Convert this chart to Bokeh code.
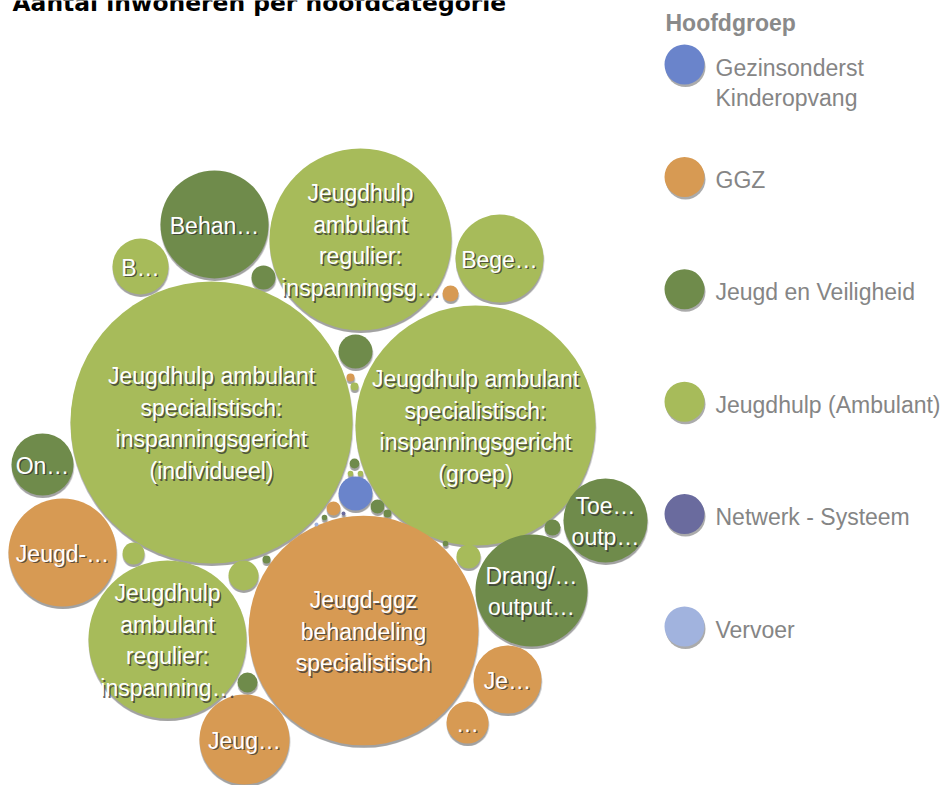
import math
from bokeh.plotting import figure
from bokeh.models import Range1d, ColumnDataSource
from bokeh.embed import file_html
from bokeh.resources import INLINE
from bokeh.core.properties import value

# ---------------- data ----------------
title = "Aantal inwoneren per hoofdcategorie"
legend_title = "Hoofdgroep"
groups = ["Gezinsonderst\nKinderopvang", "GGZ", "Jeugd en Veiligheid",
          "Jeugdhulp (Ambulant)", "Netwerk - Systeem", "Vervoer"]
group_colors = ["#6a84cb", "#d79a53", "#6f8b4b", "#a7bb5a", "#6a6b9e", "#a1b3de"]

labels = [
    "Jeugdhulp ambulant\nspecialistisch:\ninspanningsgericht\n(individueel)",
    "Jeugdhulp ambulant\nspecialistisch:\ninspanningsgericht\n(groep)",
    "Jeugd-ggz\nbehandeling\nspecialistisch",
    "Jeugdhulp\nambulant\nregulier:\ninspanningsg\u2026",
    "Jeugdhulp\nambulant\nregulier:\ninspanning\u2026",
    "Drang/\u2026\noutput\u2026",
    "Behan\u2026",
    "Jeugd-\u2026",
    "Jeug\u2026",
    "Bege\u2026",
    "Toe\u2026\noutp\u2026",
    "Je\u2026",
    "On\u2026",
    "B\u2026",
    "\u2026",
    "", "", "", "", "", "", "", "", "", "", "", "", "", "", "", "", "", "", "", "", "", "",
]
bubble_group = [3, 3, 1, 3, 3, 2, 2, 1, 1, 3, 2, 1, 2, 3, 1,
                0, 2, 3, 3, 2, 3, 2, 2, 1, 1, 2, 2, 2, 2, 1, 3, 3, 3, 2, 4, 2, 5]
aantal = [4970, 3600, 3300, 2070, 1560, 784, 729, 729, 506, 484, 441, 289, 240, 196, 110,
          72, 72, 56, 36, 36, 30, 25, 16, 16, 12, 12, 6, 4, 4, 4, 4, 2, 2, 2, 1, 2, 1]

# bubble-pack layout: centre of each bubble (pixels from top-left of page)
layout_x = [211, 475, 363, 360, 167, 531, 214, 62, 244, 499, 605, 507, 42, 140, 467,
            355, 355, 243, 468, 263, 133, 247, 552, 450, 333, 377, 354, 266, 387, 350, 354,
            350, 360, 324, 343, 445, 316]
layout_y = [422, 425, 630, 239, 639, 590, 224, 552, 739, 258, 520, 679, 464, 266, 722,
            493, 351, 575, 556, 277, 553, 682, 527, 293, 508, 506, 463, 559, 513, 377, 386,
            473, 473, 517, 513, 543, 524]

# ---------------- styling ----------------
W, H = 950, 785
R_MAX = 141.0
vmax = max(aantal)
radii = [R_MAX * math.sqrt(v / vmax) for v in aantal]
colors = [group_colors[g] for g in bubble_group]

p = figure(width=W, height=H, output_backend="svg", toolbar_location=None,
           x_range=Range1d(0, W), y_range=Range1d(H, 0),
           x_axis_location=None, y_axis_location=None, min_border=0,
           outline_line_color=None, background_fill_color="white",
           border_fill_color="white")
p.grid.visible = False

src = ColumnDataSource(dict(x=layout_x, y=layout_y, r=radii, c=colors,
                            sx=[x + 1 for x in layout_x], sy=[y + 2.5 for y in layout_y]))
# soft shadow
p.circle(x="sx", y="sy", radius="r", source=src, fill_color="#555555",
         fill_alpha=0.25, line_color=None)
p.circle(x="x", y="sy", radius="r", source=src, fill_color="#444444",
         fill_alpha=0.35, line_color=None)
# bubbles
p.circle(x="x", y="y", radius="r", source=src, fill_color="c", line_color=None)

# bubble labels, one glyph row per line
LINE = 31.5
tx, ty, tt = [], [], []
for lab, x, y in zip(labels, layout_x, layout_y):
    if not lab:
        continue
    lines = lab.split("\n")
    n = len(lines)
    for i, ln in enumerate(lines):
        tx.append(x)
        ty.append(y + (i - (n - 1) / 2) * LINE + 1)
        tt.append(ln)
lsrc = ColumnDataSource(dict(x=tx, y=ty, t=tt,
                             sx=[v + 1.5 for v in tx], sy=[v + 1.8 for v in ty]))
font = value("Liberation Sans")
p.text(x="sx", y="sy", text="t", source=lsrc, text_font=font, text_font_size="23px",
       text_align="center", text_baseline="middle", text_color="#333333", text_alpha=0.75)
p.text(x="x", y="y", text="t", source=lsrc, text_font=font, text_font_size="23px",
       text_align="center", text_baseline="middle", text_color="white")

# title (partly cut off at the top, as in the reference)
p.text(x=[12], y=[2], text=[title], text_font=value("DejaVu Sans"),
       text_font_size="23.4px", text_font_style="bold", text_color="black",
       text_align="left", text_baseline="alphabetic")

# legend
LX, LY0, LSTEP, LR = 684, 64, 112.4, 20
p.text(x=[665], y=[22], text=[legend_title], text_font=font, text_font_size="23px",
       text_font_style="bold", text_color="#8a8a8a", text_align="left",
       text_baseline="middle")
ly = [LY0 + i * LSTEP for i in range(len(groups))]
gsrc = ColumnDataSource(dict(x=[LX] * len(groups), y=ly, c=group_colors,
                             sx=[LX + 1] * len(groups), sy=[v + 2.5 for v in ly]))
p.circle(x="sx", y="sy", radius=LR, source=gsrc, fill_color="#444444",
         fill_alpha=0.45, line_color=None)
p.circle(x="x", y="y", radius=LR, source=gsrc, fill_color="c", line_color=None)
gx, gy, gt = [], [], []
for g, y in zip(groups, ly):
    for i, ln in enumerate(g.split("\n")):
        gx.append(715)
        gy.append(y + 3 + i * 30)
        gt.append(ln)
p.text(x=gx, y=gy, text=gt, text_font=font, text_font_size="23px",
       text_color="#858585", text_align="left", text_baseline="middle")

open("out.html", "w").write(file_html(p, INLINE))
